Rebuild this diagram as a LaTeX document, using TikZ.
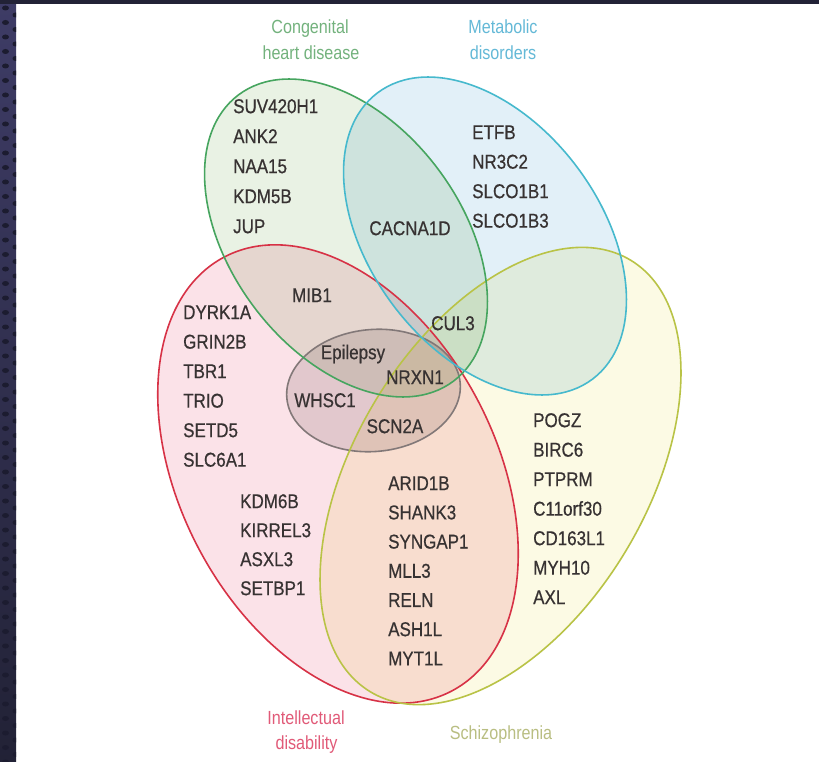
\documentclass[tikz,border=0pt]{standalone}
\usepackage{fontspec}
\setmainfont{Liberation Sans}[FakeStretch=0.85]
\newfontfamily\genefont{Liberation Sans}[FakeStretch=0.85,FakeBold=0.6]
\definecolor{grnline}{RGB}{70,165,95}
\definecolor{bluline}{RGB}{70,185,205}
\definecolor{redline}{RGB}{215,50,70}
\definecolor{yelline}{RGB}{185,195,70}
\definecolor{epiline}{RGB}{130,120,120}
\definecolor{grnfill}{RGB}{233,242,228}
\definecolor{blufill}{RGB}{226,240,248}
\definecolor{redfill}{RGB}{251,226,232}
\definecolor{yelfill}{RGB}{252,250,228}
\definecolor{epifill}{RGB}{230,226,226}
\definecolor{genetxt}{RGB}{55,50,50}
\definecolor{grntxt}{RGB}{115,178,125}
\definecolor{blutxt}{RGB}{100,185,215}
\definecolor{redtxt}{RGB}{225,90,120}
\definecolor{yeltxt}{RGB}{185,190,130}
\definecolor{brdtop}{RGB}{62,60,102}
\definecolor{brdbot}{RGB}{34,34,54}
\definecolor{brddot}{RGB}{28,28,48}
\begin{document}
\begin{tikzpicture}[x=1pt,y=1pt,
  gene/.style={font=\genefont\fontsize{20}{24}\selectfont, text=genetxt, inner sep=0pt,
    anchor=west, text height=14.3pt, text depth=0pt},
  genec/.style={gene, anchor=center},
  cat/.style={font=\fontsize{19}{23}\selectfont, inner sep=0pt,
    text height=13.6pt, text depth=0pt, anchor=center},
  venn/.style={line width=1.6pt}]
\useasboundingbox (0,0) rectangle (819,-762);
\fill[white] (0,0) rectangle (819,-762);
% dark frame
\shade[top color=brdtop, bottom color=brdbot] (0,0) rectangle (16,-762);
\fill[brdbot] (0,0) rectangle (819,-4);
\begin{scope}
  \clip (0,0) rectangle (16,-762);
  \foreach \k in {0,...,52} {
    \fill[brddot] (5.5,{-8-14.5*\k}) ellipse [x radius=3.5, y radius=2.5];
    \fill[brddot] (15.5,{-15-14.5*\k}) ellipse [x radius=3, y radius=2.5];
  }
\end{scope}
% fills
\begin{scope}[blend group=multiply]
  \fill[redfill, rotate around={-62.4:(338,-474)}] (338,-474) ellipse [x radius=245, y radius=158];
  \fill[yelfill, rotate around={58.9:(500.5,-476)}] (500.5,-476) ellipse [x radius=252, y radius=146];
  \fill[grnfill, rotate around={-53.1:(346,-238)}] (346,-238) ellipse [x radius=179, y radius=115];
  \fill[blufill, rotate around={-53.1:(485,-236)}] (485,-236) ellipse [x radius=179, y radius=115];
  \fill[epifill, rotate around={5:(373.5,-390.5)}] (373.5,-390.5) ellipse [x radius=87, y radius=61];
\end{scope}
% outlines
\draw[venn, epiline, rotate around={5:(373.5,-390.5)}] (373.5,-390.5) ellipse [x radius=87, y radius=61];
\draw[venn, redline, rotate around={-62.4:(338,-474)}] (338,-474) ellipse [x radius=245, y radius=158];
\draw[venn, yelline, rotate around={58.9:(500.5,-476)}] (500.5,-476) ellipse [x radius=252, y radius=146];
\draw[venn, grnline, rotate around={-53.1:(346,-238)}] (346,-238) ellipse [x radius=179, y radius=115];
\draw[venn, bluline, rotate around={-53.1:(485,-236)}] (485,-236) ellipse [x radius=179, y radius=115];
% category labels
\node[cat, text=grntxt] (chdA) at (310,-27) {Congenital};
\node[cat, text=grntxt] (chdB) at (311,-53) {heart disease};
\node[cat, text=blutxt] (metA) at (503,-27) {Metabolic};
\node[cat, text=blutxt] (metB) at (503,-53) {disorders};
\node[cat, text=redtxt] (idA) at (306,-717.5) {Intellectual};
\node[cat, text=redtxt] (idB) at (306.5,-742.5) {disability};
\node[cat, text=yeltxt] (scz) at (501,-732.5) {Schizophrenia};
% gene lists
\foreach \t [count=\i] in {SUV420H1,ANK2,NAA15,KDM5B,JUP}
  \node[gene] (gchd\i) at (233,{-106-30*(\i-1)}) {\t};
\foreach \t [count=\i] in {ETFB,NR3C2,SLCO1B1,SLCO1B3}
  \node[gene] (gmet\i) at (472,{-132-29.5*(\i-1)}) {\t};
\foreach \t [count=\i] in {DYRK1A,GRIN2B,TBR1,TRIO,SETD5,SLC6A1}
  \node[gene] (gidA\i) at (183,{-312-29.5*(\i-1)}) {\t};
\foreach \t [count=\i] in {KDM6B,KIRREL3,ASXL3,SETBP1}
  \node[gene] (gidB\i) at (240,{-501-29*(\i-1)}) {\t};
\foreach \t [count=\i] in {ARID1B,SHANK3,SYNGAP1,MLL3,RELN,ASH1L,MYT1L}
  \node[gene] (gidscz\i) at (388,{-483-29.2*(\i-1)}) {\t};
\foreach \t [count=\i] in {POGZ,BIRC6,PTPRM,C11orf30,CD163L1,MYH10,AXL}
  \node[gene] (gscz\i) at (533,{-420-29.5*(\i-1)}) {\t};
% single genes in overlaps
\node[genec] (cacna) at (410,-228) {CACNA1D};
\node[genec] (mib) at (312,-295) {MIB1};
\node[genec] (cul) at (453,-323) {CUL3};
\node[genec] (epi) at (353,-352) {Epilepsy};
\node[genec] (whsc) at (325,-400) {WHSC1};
\node[genec] (nrxn) at (415,-377) {NRXN1};
\node[genec] (scn) at (395,-426) {SCN2A};
\end{tikzpicture}
\end{document}
